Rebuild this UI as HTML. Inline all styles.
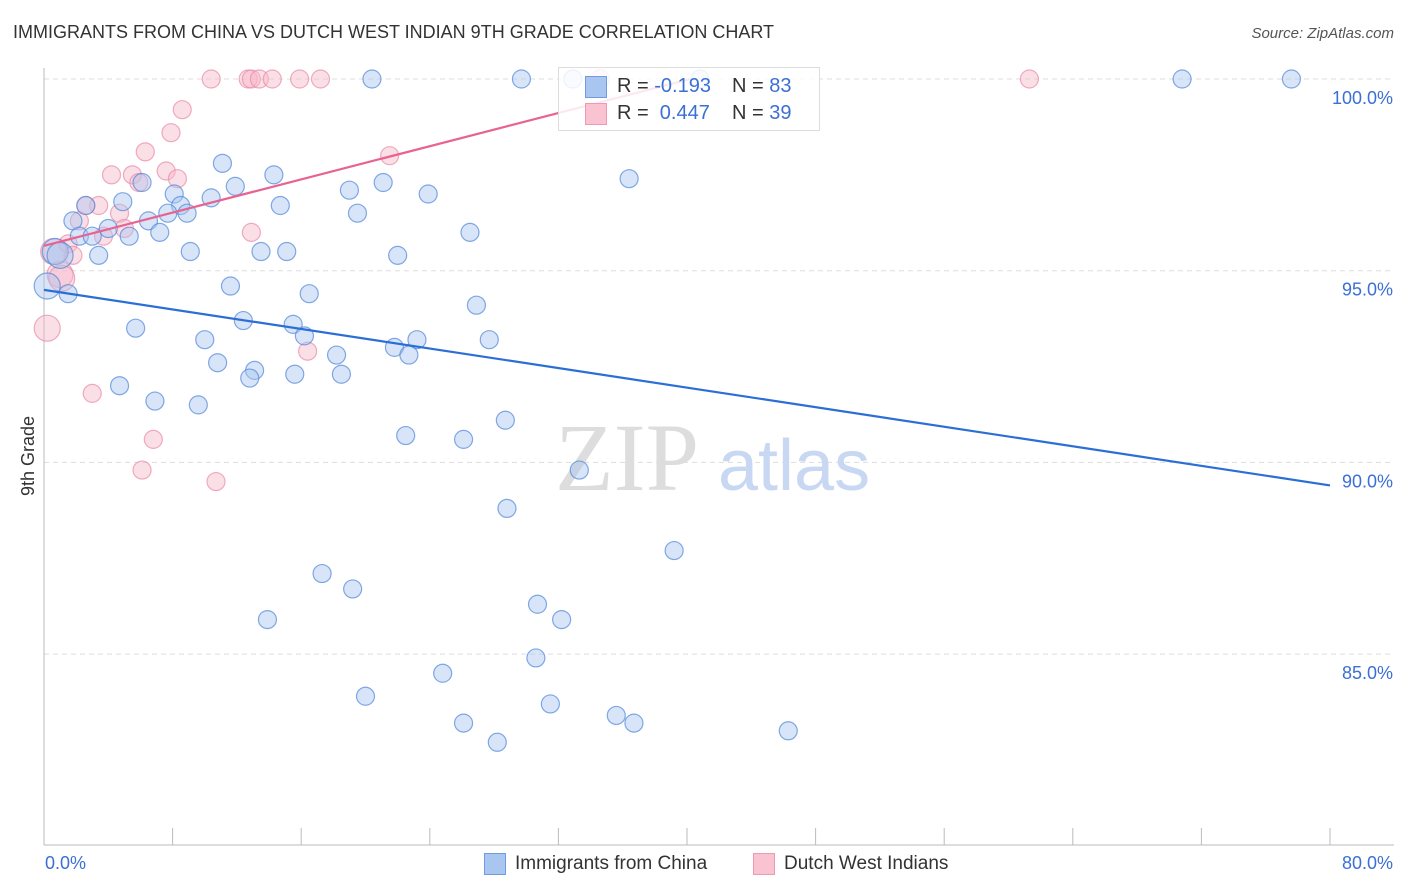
<!DOCTYPE html>
<html><head><meta charset="utf-8"><style>
body{margin:0;background:#fff;font-family:"Liberation Sans",sans-serif;}
#wrap{position:relative;width:1406px;height:892px;}
.t{position:absolute;white-space:nowrap}
</style></head><body>
<div id="wrap">
<div class="t" style="left:13px;top:22px;font-size:18px;color:#333">IMMIGRANTS FROM CHINA VS DUTCH WEST INDIAN 9TH GRADE CORRELATION CHART</div>
<div class="t" style="right:12px;top:25px;font-size:15px;color:#555;font-style:italic">Source: ZipAtlas.com</div>
<svg id="svg" width="1406" height="892" style="position:absolute;left:0;top:0"></svg>
</div>
<script>
const xTickLabels=["0.0%","80.0%"];
const yTicks=[100,95,90,85];
const yTickLabels=["100.0%","95.0%","90.0%","85.0%"];
const blueX=[20.4,29.7,32.9,70.8,77.6,40.8,11.1,14.3,36.4,21.1,6.1,11.9,19.0,8.1,23.9,10.4,8.5,4.9,2.6,14.7,19.5,8.9,7.7,6.5,1.8,4.0,7.2,26.5,5.3,2.2,3.0,9.1,13.5,15.1,22.0,3.4,0.7,1.0,0.2,1.5,11.6,16.5,26.9,5.7,12.4,15.5,16.2,10.0,27.7,23.2,21.8,18.2,22.7,10.8,13.1,12.8,15.6,18.5,4.7,6.9,9.6,28.7,22.5,26.1,33.3,28.8,39.2,17.3,19.2,30.7,13.9,32.2,30.6,24.8,20.0,31.5,35.6,36.7,26.1,28.2,46.3];
const blueY=[100,100,100,100,100,100,97.8,97.5,97.4,97.3,97.3,97.2,97.1,97.0,97.0,96.9,96.7,96.8,96.7,96.7,96.5,96.5,96.5,96.3,96.3,96.1,96.0,96.0,95.9,95.9,95.9,95.5,95.5,95.5,95.4,95.4,95.5,95.4,94.6,94.4,94.6,94.4,94.1,93.5,93.7,93.6,93.3,93.2,93.2,93.2,93.0,92.8,92.8,92.6,92.4,92.2,92.3,92.3,92.0,91.6,91.5,91.1,90.7,90.6,89.8,88.8,87.7,87.1,86.7,86.3,85.9,85.9,84.9,84.5,83.9,83.7,83.4,83.2,83.2,82.7,83.0];
const pinkX=[10.4,12.7,12.9,13.4,14.2,15.9,17.2,61.3,34.6,8.6,7.9,6.3,4.2,5.5,7.6,8.3,5.9,21.5,3.4,4.7,2.2,5.0,3.7,12.9,1.5,1.8,1.0,1.1,0.2,16.4,3.0,6.8,6.1,10.7,2.6,0.6];
const pinkY=[100,100,100,100,100,100,100,100,100,99.2,98.6,98.1,97.5,97.5,97.6,97.4,97.3,98.0,96.7,96.5,96.3,96.1,95.9,96.0,95.7,95.4,94.9,94.8,93.5,92.9,91.8,90.6,89.8,89.5,96.7,95.5];
const blueTrend=[[0,94.5],[80,89.4]];
const pinkTrend=[[0,95.65],[40.2,100]];
const X0=44,X1=1330,Y100=79,PPY=38.34;
const sx=v=>X0+(v/80)*(X1-X0);
const sy=v=>Y100+(100-v)*PPY;
const svg=document.getElementById('svg');
const NS='http://www.w3.org/2000/svg';
function mk(tag,at){const e=document.createElementNS(NS,tag);for(const k in at)e.setAttribute(k,at[k]);svg.appendChild(e);return e;}
// gridlines
yTicks.forEach((v,i)=>{
 const g=mk('line',{x1:X0,x2:1394,y1:sy(v),y2:sy(v),stroke:'#ddd','stroke-dasharray':'5,4'});
 
 
 const t=mk('text',{x:1393,y:sy(v)+25,'text-anchor':'end','font-size':18,fill:'#3b6fd4','font-family':'Liberation Sans'});
 t.textContent=yTickLabels[i];
 
 
});
const ax=mk('line',{x1:X0,x2:X0,y1:68,y2:845,stroke:'#bbb'});


const bx=mk('line',{x1:X0,x2:1394,y1:845,y2:845,stroke:'#bbb'});


for(let i=0;i<=10;i++){const v=i*8;const tk=mk('line',{x1:sx(v),x2:sx(v),y1:828,y2:845,stroke:'#bbb'});
 
 }
[[0,'start',45],[80,'end',1393]].forEach((a,i)=>{const t=mk('text',{x:a[2],y:869,'text-anchor':a[1],'font-size':18,fill:'#3b6fd4','font-family':'Liberation Sans'});t.textContent=xTickLabels[i];
 
 });
const yt=mk('text',{x:34,y:456,'text-anchor':'middle','font-size':18,fill:'#333',transform:'rotate(-90 34 456)','font-family':'Liberation Sans'});yt.textContent='9th Grade';


// watermark
const wm=mk('text',{x:555,y:490,'font-size':96,fill:'#ddd','font-family':'Liberation Serif'});wm.textContent='ZIP';


const wm2=mk('text',{x:718,y:490,'font-size':72,fill:'#c8d8f2','font-family':'Liberation Sans'});wm2.textContent='atlas';


function pts(xs,ys,fill,stroke,name){xs.forEach((x,i)=>{const r=x<1.2?13:9;const c=mk('circle',{cx:sx(x),cy:sy(ys[i]),r:r,fill:fill,'fill-opacity':0.45,stroke:stroke,'stroke-opacity':0.7,'stroke-width':1.2});
 
 });}
pts(pinkX,pinkY,'#f7b8c9','#e88aa6','point-dutch-west-indians');
pts(blueX,blueY,'#a9c6f0','#4f86d9','point-immigrants-china');
const bl=mk('line',{x1:sx(blueTrend[0][0]),y1:sy(blueTrend[0][1]),x2:sx(blueTrend[1][0]),y2:sy(blueTrend[1][1]),stroke:'#2b6fd6','stroke-width':2.2});


const pl=mk('line',{x1:sx(pinkTrend[0][0]),y1:sy(pinkTrend[0][1]),x2:sx(pinkTrend[1][0]),y2:sy(pinkTrend[1][1]),stroke:'#e86390','stroke-width':2.2});


</script>
<div class="t" style="left:558px;top:67px;width:260px;height:62px;border:1px solid #ddd;background:rgba(255,255,255,0.85)">
 <div style="position:absolute;left:26px;top:8px;width:20px;height:20px;background:#a9c6f0;border:1px solid #6f9ce0"></div>
 <div style="position:absolute;left:26px;top:35px;width:20px;height:20px;background:#f9c3d2;border:1px solid #ee9ab3"></div>
 <div class="t" style="left:58px;top:7px;font-size:20px;color:#333">R = <span style="color:#3b6fd4">-0.193</span></div>
 <div class="t" style="left:173px;top:7px;font-size:20px;color:#333">N = <span style="color:#3b6fd4">83</span></div>
 <div class="t" style="left:58px;top:34px;font-size:20px;color:#333">R = &nbsp;<span style="color:#3b6fd4">0.447</span></div>
 <div class="t" style="left:173px;top:34px;font-size:20px;color:#333">N = <span style="color:#3b6fd4">39</span></div>
</div>
<div class="t" style="left:484px;top:853px;width:20px;height:20px;background:#a9c6f0;border:1px solid #6f9ce0"></div>
<div class="t" style="left:515px;top:853px;font-size:19px;color:#333">Immigrants from China</div>
<div class="t" style="left:753px;top:853px;width:20px;height:20px;background:#f9c3d2;border:1px solid #ee9ab3"></div>
<div class="t" style="left:784px;top:853px;font-size:19px;color:#333">Dutch West Indians</div>
</body></html>
